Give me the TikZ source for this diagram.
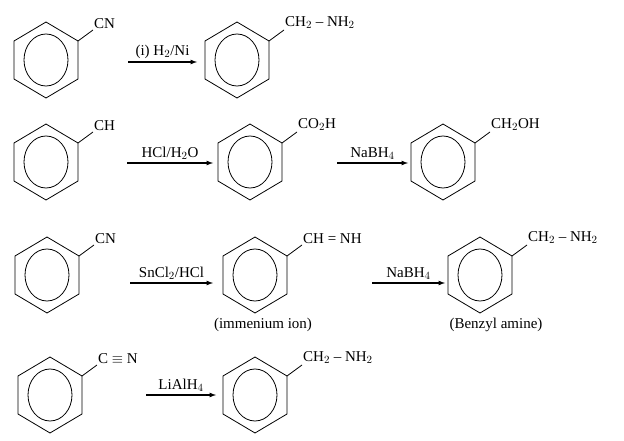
\documentclass[tikz,border=0pt]{standalone}
\usepackage{fontspec}
\setmainfont{Liberation Serif}
\usetikzlibrary{positioning,calc}
\tikzset{
  lbl/.style={font=\fontsize{15}{17}\selectfont, inner sep=1pt},
  rxn/.style={-latex, line width=1.2pt},
}
% ring macro: name, centre
\newcommand{\benzring}[2]{
  \coordinate (#1) at (#2);
  \draw[line width=0.8pt] ($(#1)+(0,-38)$) -- ++(32,19) -- ++(0,38) -- ++(-32,19) -- ++(-32,-19) -- ++(0,-38) -- cycle;
  \draw[line width=0.8pt] (#1) ellipse (22 and 26);
  \coordinate (#1-s) at ($(#1)+(32,-19)$);
  \coordinate (#1-e) at ($(#1)+(47,-30)$);
  \draw[line width=0.8pt] (#1-s) -- (#1-e);
}
\begin{document}
\begin{tikzpicture}[x=1pt,y=-1pt]
  \useasboundingbox (0,0) rectangle (624,441);
  % row 1
  \benzring{a1}{46,60}
  \node[lbl, anchor=south west] at (a1-e) {CN};
  \benzring{a2}{237,60}
  \node[lbl, anchor=south west] at (a2-e) {CH$_2$ -- NH$_2$};
  \coordinate (a1r) at (128,62);
  \coordinate (a2l) at (197,62);
  \draw[rxn] (a1r) -- node[lbl, above=2pt] {(i) H$_2$/Ni} (a2l);
  % row 2
  \benzring{b1}{46,162}
  \node[lbl, anchor=south west] at (b1-e) {CH};
  \benzring{b2}{250,162}
  \node[lbl, anchor=south west] at (b2-e) {CO$_2$H};
  \benzring{b3}{443,162}
  \node[lbl, anchor=south west] at (b3-e) {CH$_2$OH};
  \coordinate (b1r) at (127,163);
  \coordinate (b2l) at (213,163);
  \coordinate (b2r) at (337,163);
  \coordinate (b3l) at (408,163);
  \draw[rxn] (b1r) -- node[lbl, above=2pt] {HCl/H$_2$O} (b2l);
  \draw[rxn] (b2r) -- node[lbl, above=2pt] {NaBH$_4$} (b3l);
  % row 3
  \benzring{c1}{47,275}
  \node[lbl, anchor=south west] at (c1-e) {CN};
  \benzring{c2}{255,275}
  \node[lbl, anchor=north] at ($(c2)+(8,42)$) {(immenium ion)};
  \node[lbl, anchor=south west] at (c2-e) {CH = NH};
  \benzring{c3}{480,275}
  \node[lbl, anchor=south west] at (c3-e) {CH$_2$ -- NH$_2$};
  \node[lbl, anchor=north] at ($(c3)+(16,42)$) {(Benzyl amine)};
  \coordinate (c1r) at (130,283);
  \coordinate (c2l) at (213,283);
  \coordinate (c2r) at (372,283);
  \coordinate (c3l) at (445,283);
  \draw[rxn] (c1r) -- node[lbl, above=2pt] {SnCl$_2$/HCl} (c2l);
  \draw[rxn] (c2r) -- node[lbl, above=2pt] {NaBH$_4$} (c3l);
  % row 4
  \benzring{d1}{50,395}
  \node[lbl, anchor=south west] at (d1-e) {C $\equiv$ N};
  \benzring{d2}{255,395}
  \node[lbl, anchor=south west] at (d2-e) {CH$_2$ -- NH$_2$};
  \coordinate (d1r) at (146,395);
  \coordinate (d2l) at (216,395);
  \draw[rxn] (d1r) -- node[lbl, above=2pt] {LiAlH$_4$} (d2l);
\end{tikzpicture}
\end{document}
